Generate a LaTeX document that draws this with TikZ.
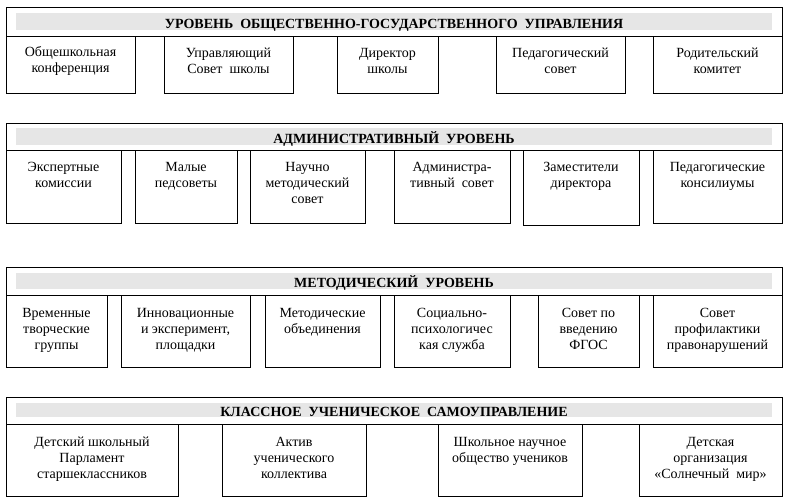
\documentclass[tikz,border=0pt]{standalone}
\usepackage{fontspec}
\setmainfont{Liberation Serif}
\usetikzlibrary{positioning}
\definecolor{lvGray}{RGB}{230,230,230}
\definecolor{lvLine}{RGB}{0,0,0}
\tikzset{
    base/.style={font=\fontsize{14}{16}\selectfont, align=center, inner sep=0pt},
    frame/.style={rectangle, draw=lvLine, line width=1pt, fill=white,
                  minimum width=776pt},
    band/.style={rectangle, fill=lvGray, minimum width=756pt},
    title/.style={base, font=\fontsize{14}{16}\selectfont\bfseries, anchor=base},
    cell/.style={rectangle, draw=lvLine, line width=1pt, fill=white},
    label/.style={base, anchor=north}
}
\begin{document}
\begin{tikzpicture}[x=1pt, y=-1pt]
  \useasboundingbox (0,0) rectangle (790,503);

  % Level 1
  \node[frame, minimum height=29pt] (f1) at (394,22.5) {};
  \node[band, minimum height=17pt] (s1) at (394,21.5) {};
  \node[title] (h1) at ([yshift=2pt]s1.south) {УРОВЕНЬ\ \ ОБЩЕСТВЕННО-ГОСУДАРСТВЕННОГО\ \ УПРАВЛЕНИЯ};
  \node[cell, minimum width=129pt, minimum height=56pt] (a1) at (70.5,65) {};
  \node[cell, minimum width=129pt, minimum height=56pt] (a2) at (228.5,65) {};
  \node[cell, minimum width=101pt, minimum height=56pt] (a3) at (387.5,65) {};
  \node[cell, minimum width=129pt, minimum height=56pt] (a4) at (560.5,65) {};
  \node[cell, minimum width=129pt, minimum height=56pt] (a5) at (717.5,65) {};
  \node[label] (ta1) at ([yshift=-10pt]a1.north) {Общешкольная\\конференция};
  \node[label] (ta2) at ([yshift=-11.5pt]a2.north) {Управляющий\\Совет\ \ школы};
  \node[label] (ta3) at ([yshift=-11.5pt]a3.north) {Директор\\школы};
  \node[label] (ta4) at ([yshift=-11.5pt]a4.north) {Педагогический\\совет};
  \node[label] (ta5) at ([yshift=-11.5pt]a5.north) {Родительский\\комитет};

  % Level 2
  \node[frame, minimum height=27pt] (f2) at (394,136.5) {};
  \node[band, minimum height=17pt] (s2) at (394,136.5) {};
  \node[title] (h2) at ([yshift=2pt]s2.south) {АДМИНИСТРАТИВНЫЙ\ \ УРОВЕНЬ};
  \node[cell, minimum width=115pt, minimum height=73pt] (b1) at (63.5,186.5) {};
  \node[cell, minimum width=102pt, minimum height=73pt] (b2) at (186,186.5) {};
  \node[cell, minimum width=115pt, minimum height=73pt] (b3) at (307.5,186.5) {};
  \node[cell, minimum width=116pt, minimum height=73pt] (b4) at (452,186.5) {};
  \node[cell, minimum width=116pt, minimum height=75pt] (b5) at (581,187.5) {};
  \node[cell, minimum width=129pt, minimum height=73pt] (b6) at (717.5,186.5) {};
  \node[label] (tb1) at ([yshift=-12.5pt]b1.north) {Экспертные\\комиссии};
  \node[label] (tb2) at ([yshift=-12.5pt]b2.north) {Малые\\педсоветы};
  \node[label] (tb3) at ([yshift=-12.5pt]b3.north) {Научно\\методический\\совет};
  \node[label] (tb4) at ([yshift=-12.5pt]b4.north) {Администра-\\тивный\ \ совет};
  \node[label] (tb5) at ([yshift=-12.5pt]b5.north) {Заместители\\директора};
  \node[label] (tb6) at ([yshift=-12.5pt]b6.north) {Педагогические\\консилиумы};

  % Level 3
  \node[frame, minimum height=28pt] (f3) at (394,281) {};
  \node[band, minimum height=16pt] (s3) at (394,281) {};
  \node[title] (h3) at ([yshift=2pt]s3.south) {МЕТОДИЧЕСКИЙ\ \ УРОВЕНЬ};
  \node[cell, minimum width=101pt, minimum height=72pt] (c1) at (56.5,331) {};
  \node[cell, minimum width=129pt, minimum height=72pt] (c2) at (185.5,331) {};
  \node[cell, minimum width=115pt, minimum height=72pt] (c3) at (322.5,331) {};
  \node[cell, minimum width=116pt, minimum height=72pt] (c4) at (452,331) {};
  \node[cell, minimum width=101pt, minimum height=72pt] (c5) at (588.5,331) {};
  \node[cell, minimum width=129pt, minimum height=72pt] (c6) at (717.5,331) {};
  \node[label] (tc1) at ([yshift=-13.5pt]c1.north) {Временные\\творческие\\группы};
  \node[label] (tc2) at ([yshift=-13.5pt]c2.north) {Инновационные\\и эксперимент,\\площадки};
  \node[label] (tc3) at ([yshift=-13.5pt]c3.north) {Методические\\объединения};
  \node[label] (tc4) at ([yshift=-13.5pt]c4.north) {Социально-\\психологичес\\кая служба};
  \node[label] (tc5) at ([yshift=-13.5pt]c5.north) {Совет по\\введению\\ФГОС};
  \node[label] (tc6) at ([yshift=-13.5pt]c6.north) {Совет\\профилактики\\правонарушений};

  % Level 4
  \node[frame, minimum height=27pt] (f4) at (394,410.5) {};
  \node[band, minimum height=14pt] (s4) at (394,410) {};
  \node[title] (h4) at ([yshift=1pt]s4.south) {КЛАССНОЕ\ \ УЧЕНИЧЕСКОЕ\ \ САМОУПРАВЛЕНИЕ};
  \node[cell, minimum width=172pt, minimum height=72pt] (d1) at (92,460) {};
  \node[cell, minimum width=144pt, minimum height=72pt] (d2) at (294,460) {};
  \node[cell, minimum width=144pt, minimum height=72pt] (d3) at (510,460) {};
  \node[cell, minimum width=143pt, minimum height=72pt] (d4) at (710.5,460) {};
  \node[label] (td1) at ([yshift=-13.5pt]d1.north) {Детский школьный\\Парламент\\старшеклассников};
  \node[label] (td2) at ([yshift=-13.5pt]d2.north) {Актив\\ученического\\коллектива};
  \node[label] (td3) at ([yshift=-13.5pt]d3.north) {Школьное научное\\общество учеников};
  \node[label] (td4) at ([yshift=-13.5pt]d4.north) {Детская\\организация\\«Солнечный\ \ мир»};
\end{tikzpicture}
\end{document}
